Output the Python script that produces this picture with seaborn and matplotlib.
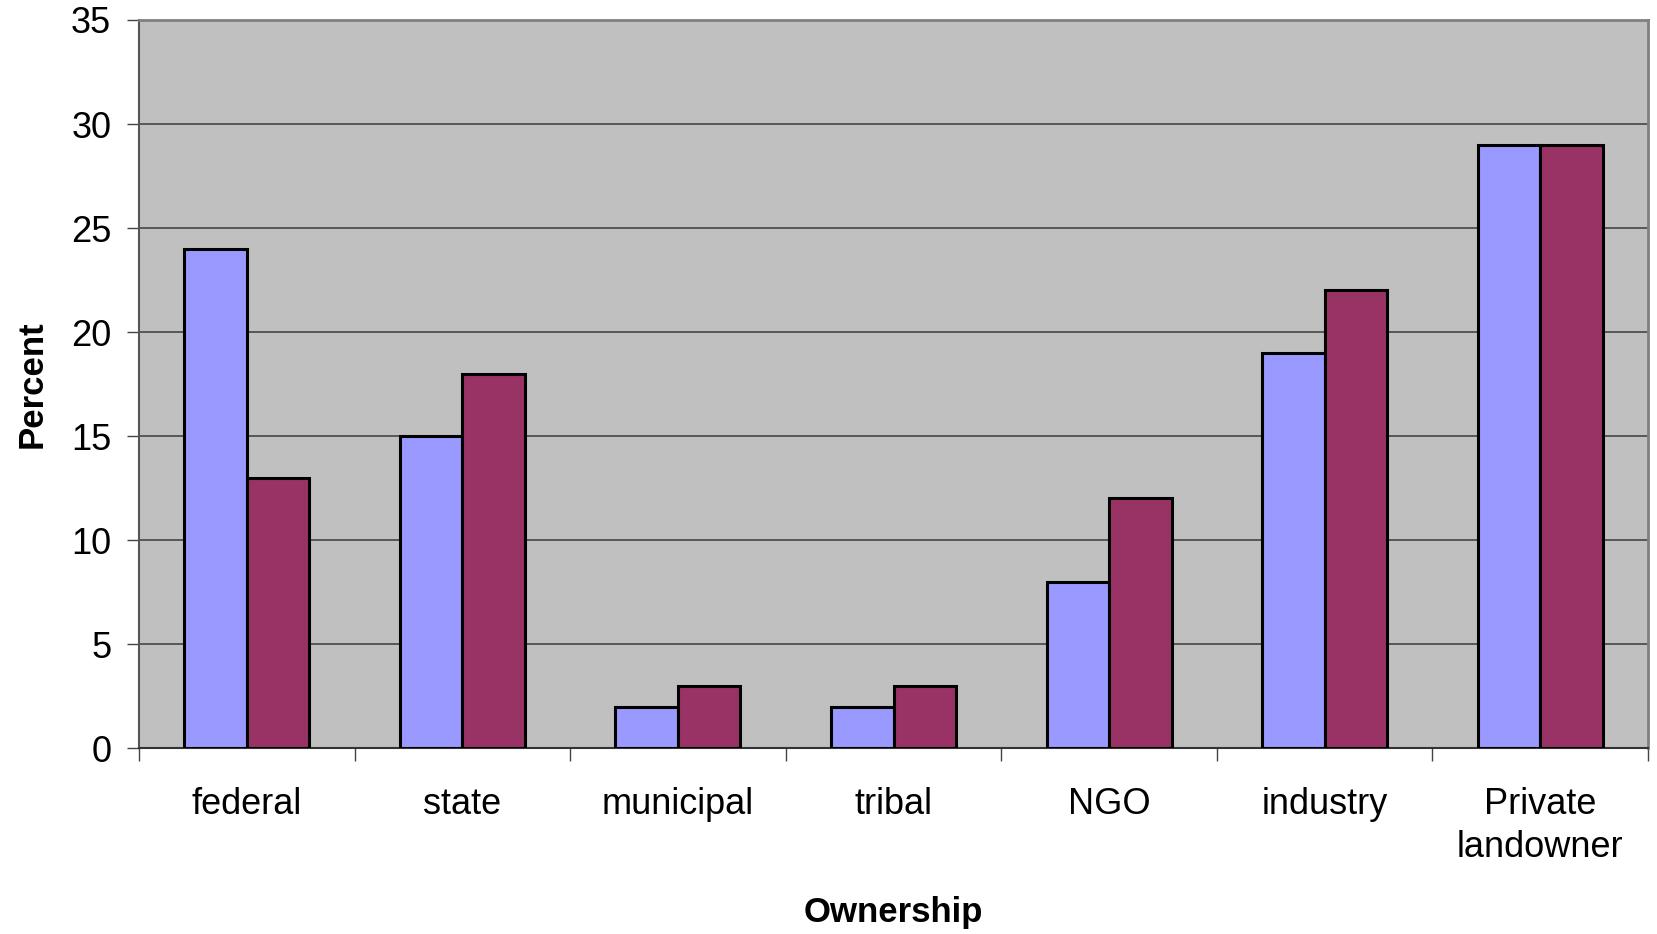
import matplotlib
matplotlib.use("Agg")
import matplotlib.pyplot as plt
import seaborn as sns
import pandas as pd
import numpy as np

# Share of respondents by land ownership type, two survey groups
categories = ["federal", "state", "municipal", "tribal", "NGO", "industry", "Private\nlandowner"]
group_a = [24, 15, 2, 2, 8, 19, 29]
group_b = [13, 18, 3, 3, 12, 22, 29]
series_names = ["Group A", "Group B"]
y_ticks = [0, 5, 10, 15, 20, 25, 30, 35]

df = pd.DataFrame({
    "Ownership": categories * 2,
    "Percent": group_a + group_b,
    "Series": [series_names[0]] * len(categories) + [series_names[1]] * len(categories),
})

sns.set_theme(style="white")
plt.rcParams["font.family"] = ["Liberation Sans", "DejaVu Sans"]
plt.rcParams["text.color"] = "black"
plt.rcParams["axes.labelcolor"] = "black"
plt.rcParams["xtick.labelcolor"] = "black"
plt.rcParams["ytick.labelcolor"] = "black"

fig = plt.figure(figsize=(16.57, 9.34), dpi=100)
ax = fig.add_axes([0.0839, 0.199, 0.9107, 0.7796])
ax.set_facecolor("#C0C0C0")

sns.barplot(
    data=df, x="Ownership", y="Percent", hue="Series",
    palette=["#9999FF", "#993366"], width=0.58, gap=0,
    edgecolor="black", linewidth=2.2, saturation=1, legend=False, ax=ax, zorder=3,
)

ax.set_ylim(0, 35)
ax.set_xlim(-0.5, len(categories) - 0.5)
ax.set_yticks(y_ticks)
ax.set_yticklabels([str(v) for v in y_ticks])
ax.yaxis.grid(True, color="#3a3a3a", linewidth=1.1, zorder=1)
ax.set_axisbelow(True)

# category labels centred, tick marks on category boundaries
ax.set_xticks(range(len(categories)))
ax.set_xticklabels(categories, linespacing=1.3)
ax.set_xticks(np.arange(-0.5, len(categories)), minor=True)
ax.tick_params(axis="x", which="major", length=0, pad=28, labelsize=26)
ax.tick_params(axis="x", which="minor", length=9, width=1, color="#444444", direction="out", bottom=True)
ax.tick_params(axis="y", length=9, width=1, color="#444444", direction="out", left=True, pad=11, labelsize=26)

for side in ["top", "right"]:
    ax.spines[side].set_color("#808080")
    ax.spines[side].set_linewidth(2)
ax.spines["left"].set_color("#555555")
ax.spines["left"].set_linewidth(1.5)
ax.spines["bottom"].set_color("#333333")
ax.spines["bottom"].set_linewidth(1.5)

ax.set_ylabel("Percent", fontsize=25, fontweight="bold", labelpad=16)
ax.set_xlabel("Ownership", fontsize=25, fontweight="bold", labelpad=22)

fig.savefig("out.png", dpi=100, facecolor="white")
